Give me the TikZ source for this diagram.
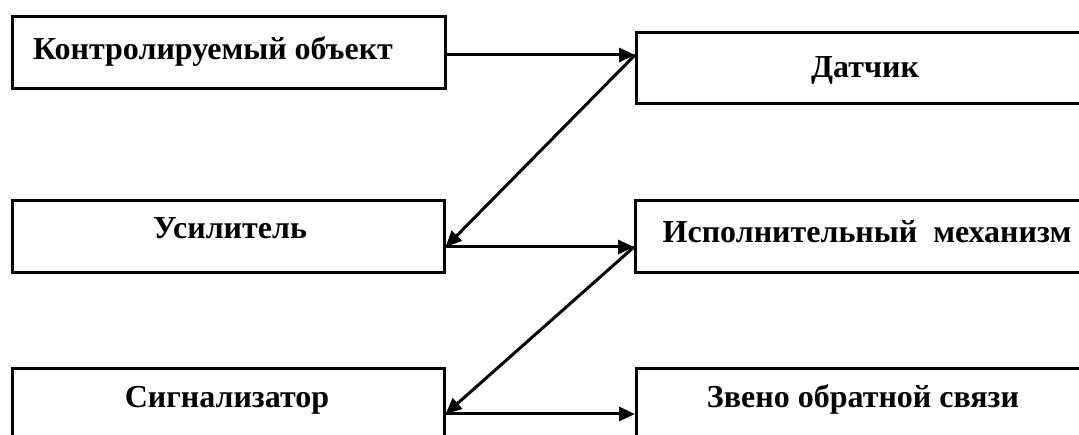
\documentclass[tikz,border=0pt]{standalone}
\usepackage{fontspec}
\setmainfont{Liberation Serif}
\usetikzlibrary{arrows.meta}
\begin{document}
\begin{tikzpicture}[x=1pt,y=-1pt,
  box/.style={draw, line width=2.6pt, inner sep=0pt, anchor=north west},
  lbl/.style={font=\fontsize{32}{36}\selectfont\bfseries, anchor=base, inner sep=0pt},
  arr/.style={line width=3pt, -{Triangle[length=16pt,width=14pt]}}]
\useasboundingbox (0,0) rectangle (1079,435);
% boxes
\node[box, minimum width=433pt, minimum height=72pt] (ko) at (11,15) {};
\node[box, minimum width=460pt, minimum height=71pt] (da) at (635,31) {};
\node[box, minimum width=432pt, minimum height=72pt] (us) at (11,199) {};
\node[box, minimum width=460pt, minimum height=72pt] (im) at (634,199) {};
\node[box, minimum width=432pt, minimum height=90pt] (si) at (11,367) {};
\node[box, minimum width=460pt, minimum height=90pt] (zv) at (635,367) {};
% labels
\node[lbl] (t1) at (213,60) {Контролируемый объект};
\node[lbl] (t2) at (865,78) {Датчик};
\node[lbl] (t3) at (230,239) {Усилитель};
\node[lbl] (t4) at (867,243) {Исполнительный~ механизм};
\node[lbl] (t5) at (227,408) {Сигнализатор};
\node[lbl] (t6) at (863,408) {Звено обратной связи};
% connection points
\coordinate (koE) at (ko.east |- 0,55);
\coordinate (daW) at (da.west |- 0,55);
\coordinate (usE) at (us.east |- 0,247);
\coordinate (imW) at (im.west |- 0,247);
\coordinate (siE) at (si.east |- 0,414);
\coordinate (zvW) at (zv.west |- 0,414);
% arrows
\draw[arr] (koE) -- (daW);
\draw[arr] (daW) -- (usE);
\draw[arr] (usE) -- (imW);
\draw[arr] (imW) -- (siE);
\draw[arr] (siE) -- (zvW);
\end{tikzpicture}
\end{document}
